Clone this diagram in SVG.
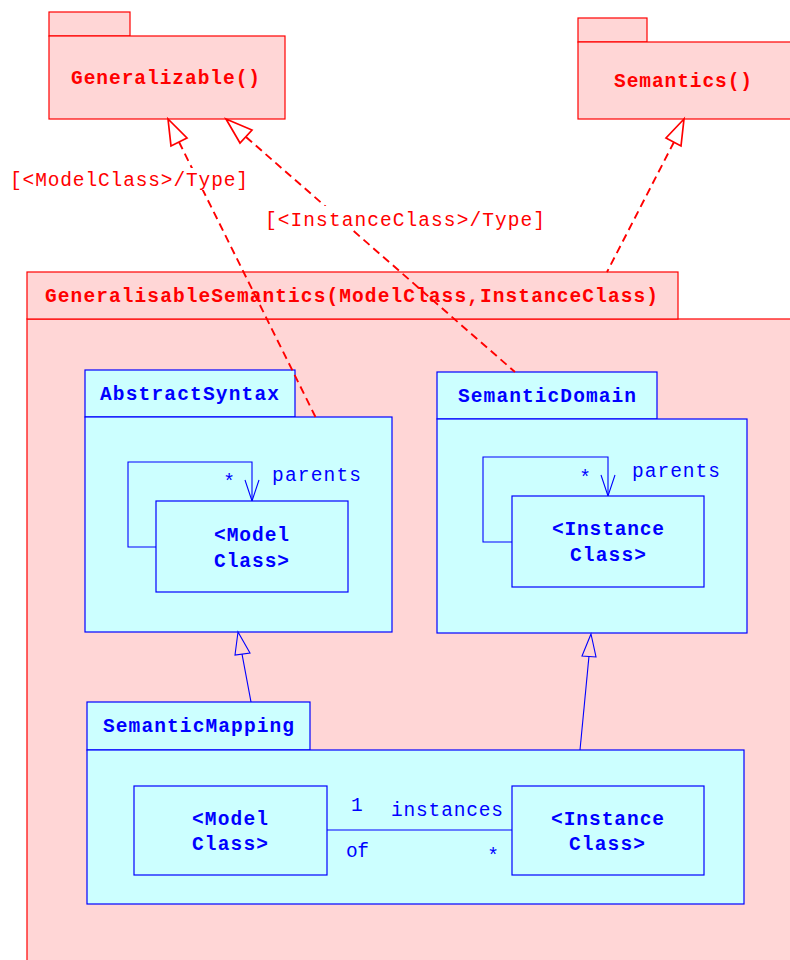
<svg xmlns="http://www.w3.org/2000/svg" width="790" height="960" viewBox="0 0 790 960">
<style>
.rp{fill:#ffd6d6;stroke:#ff0000;stroke-width:1.2}
.bp{fill:#ccffff;stroke:#0000ff;stroke-width:1.2}
.cl{fill:#ccffff;stroke:#0000ff;stroke-width:1.2}
.rt{font-family:"Liberation Mono","Courier New",monospace;font-weight:bold;font-size:19.5px;fill:#ff0000}
.rl{font-family:"Liberation Mono","Courier New",monospace;font-size:19.5px;fill:#ff0000}
.bt{font-family:"Liberation Mono","Courier New",monospace;font-weight:bold;font-size:19.5px;fill:#0000ff}
.bl{font-family:"Liberation Mono","Courier New",monospace;font-size:19.5px;fill:#0000ff}
.dash{fill:none;stroke:#ff0000;stroke-width:1.9;stroke-dasharray:8 5}
.rh{fill:#ffffff;stroke:#ff0000;stroke-width:1.7}
.bline{fill:none;stroke:#0000ff;stroke-width:1.1}
.bh{fill:#ffd6d6;stroke:#0000ff;stroke-width:1.1}
</style>

<g id="Generalizable">
<rect class="rp" x="49" y="12" width="81" height="24"/>
<rect class="rp" x="49" y="36" width="236" height="83"/>
<text class="rt" x="71" y="84" textLength="189" lengthAdjust="spacing">Generalizable()</text>
</g>

<g id="Semantics">
<rect class="rp" x="578" y="18" width="69" height="24"/>
<rect class="rp" x="578" y="42" width="214" height="77"/>
<text class="rt" x="614" y="87" textLength="138" lengthAdjust="spacing">Semantics()</text>
</g>

<g id="GeneralisableSemantics">
<rect class="rp" x="27" y="319" width="770" height="650"/>
<rect class="rp" x="27" y="272" width="651" height="47"/>
<text class="rt" x="45" y="302" textLength="613" lengthAdjust="spacing">GeneralisableSemantics(ModelClass,InstanceClass)</text>
</g>

<g id="AbstractSyntax">
<rect class="bp" x="85" y="370" width="210" height="47"/>
<rect class="bp" x="85" y="417" width="307" height="215"/>
<text class="bt" x="100" y="400" textLength="179" lengthAdjust="spacing">AbstractSyntax</text>
<polyline class="bline" points="156,547 128,547 128,462 252,462 252,501"/>
<polyline class="bline" points="245,480 252,501 259,480"/>
<text class="bl" x="229" y="488" text-anchor="middle">*</text>
<text class="bl" x="272" y="481" textLength="89" lengthAdjust="spacing">parents</text>
<g id="AS_ModelClass">
<rect class="cl" x="156" y="501" width="192" height="91"/>
<text class="bt" x="214" y="541" textLength="75" lengthAdjust="spacing">&lt;Model</text>
<text class="bt" x="214" y="567" textLength="75" lengthAdjust="spacing">Class&gt;</text>
</g>
</g>

<g id="SemanticDomain">
<rect class="bp" x="437" y="372" width="220" height="47"/>
<rect class="bp" x="437" y="419" width="310" height="214"/>
<text class="bt" x="458" y="402" textLength="178" lengthAdjust="spacing">SemanticDomain</text>
<polyline class="bline" points="512,542 483,542 483,457 608,457 608,496"/>
<polyline class="bline" points="601,475 608,496 615,475"/>
<text class="bl" x="585" y="484" text-anchor="middle">*</text>
<text class="bl" x="632" y="477" textLength="88" lengthAdjust="spacing">parents</text>
<g id="SD_InstanceClass">
<rect class="cl" x="512" y="496" width="192" height="91"/>
<text class="bt" x="552" y="535" textLength="112" lengthAdjust="spacing">&lt;Instance</text>
<text class="bt" x="570" y="561" textLength="76" lengthAdjust="spacing">Class&gt;</text>
</g>
</g>

<g id="SemanticMapping">
<rect class="bp" x="87" y="702" width="223" height="48"/>
<rect class="bp" x="87" y="750" width="657" height="154"/>
<text class="bt" x="103" y="732" textLength="191" lengthAdjust="spacing">SemanticMapping</text>
<g id="SM_ModelClass">
<rect class="cl" x="134" y="786" width="193" height="89"/>
<text class="bt" x="192" y="825" textLength="76" lengthAdjust="spacing">&lt;Model</text>
<text class="bt" x="192" y="850" textLength="76" lengthAdjust="spacing">Class&gt;</text>
</g>
<g id="SM_InstanceClass">
<rect class="cl" x="512" y="786" width="192" height="89"/>
<text class="bt" x="551" y="825" textLength="113" lengthAdjust="spacing">&lt;Instance</text>
<text class="bt" x="569" y="850" textLength="76" lengthAdjust="spacing">Class&gt;</text>
</g>
</g>

<g id="connectors">
<line class="bline" x1="327" y1="830" x2="512" y2="830"/>
<text class="bl" x="351" y="811" textLength="10" lengthAdjust="spacing">1</text>
<text class="bl" x="391" y="816" textLength="112" lengthAdjust="spacing">instances</text>
<text class="bl" x="346" y="857" textLength="23" lengthAdjust="spacing">of</text>
<text class="bl" x="493" y="862" text-anchor="middle">*</text>

<line class="bline" x1="251" y1="702" x2="242" y2="654"/>
<polygon class="bh" points="238,632 235,655 250,653"/>
<line class="bline" x1="580" y1="750" x2="589" y2="656"/>
<polygon class="bh" points="591,634 582,656 596,657"/>

<line class="dash" x1="179" y1="142" x2="316" y2="418"/>
<polygon class="rh" points="168,119 171,146 187,138"/>
<line class="dash" x1="246" y1="137" x2="515" y2="372"/>
<polygon class="rh" points="226,119 240,143 252,130"/>
<line class="dash" x1="674" y1="142" x2="607" y2="272"/>
<polygon class="rh" points="684,119 666,138 681,146"/>

<rect x="8" y="168" width="242" height="22" fill="#ffffff"/>
<text class="rl" x="10" y="186" textLength="238" lengthAdjust="spacing">[&lt;ModelClass&gt;/Type]</text>
<rect x="263" y="206" width="284" height="24" fill="#ffffff"/>
<text class="rl" x="265" y="226" textLength="280" lengthAdjust="spacing">[&lt;InstanceClass&gt;/Type]</text>
</g>
</svg>
